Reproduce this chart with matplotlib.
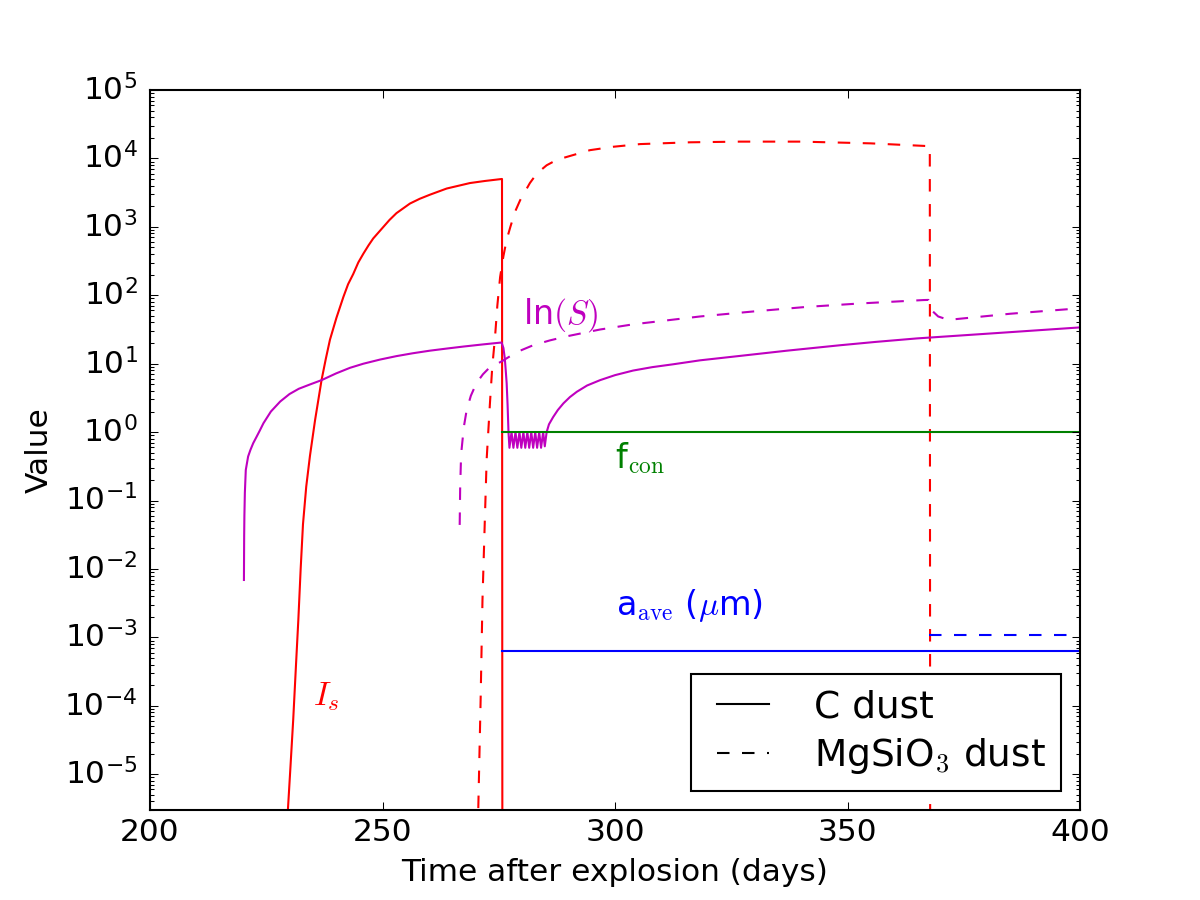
import matplotlib
matplotlib.use("Agg")
import matplotlib.pyplot as plt
from matplotlib.ticker import NullFormatter, LogLocator, FixedLocator

plt.style.use("classic")
plt.rcParams["mathtext.fontset"] = "cm"
plt.rcParams["font.family"] = ["DejaVu Sans"]

# ---- data ----
# Nucleation rate I_s, C dust
c_is_day = [229.5, 230.2, 230.8, 231.4, 231.9, 232.4, 232.9, 233.6, 234.4, 235.5,
            236.9, 237.8, 238.7, 240.1, 241.6, 242.6, 243.7, 244.8, 245.9, 247.0,
            248.0, 250.2, 251.5, 253.0, 255.9, 258.0, 260.2, 263.8, 268.8, 272.0,
            275.7, 275.8]
c_is_val = [2.0e-6, 1.26e-5, 6.3e-5, 4.0e-4, 1.8e-3, 1.0e-2, 4.5e-2, 0.16, 0.45, 1.5,
            5.8, 11.7, 22.4, 47, 95, 145, 204, 302, 407, 537,
            676, 1000, 1260, 1585, 2190, 2570, 2950, 3630, 4365, 4680,
            5010, 1e-9]

# Nucleation rate I_s, MgSiO3 dust
m_is_day = [270.6, 271.1, 271.5, 272.0, 272.4, 273.1, 273.6, 274.2, 274.7, 275.3,
            276.0, 276.7, 277.5, 278.5, 279.6, 281.7, 283.2, 285.3, 287.5, 291.0,
            294.6, 299.6, 305.4, 316.1, 326.9, 340.0, 355.0, 367.7, 367.8]
m_is_val = [3.2e-6, 1.2e-4, 3.5e-3, 0.05, 0.4, 2.6, 8.9, 24.5, 71, 186,
            372, 646, 1000, 1660, 2450, 4370, 6030, 7940, 9550, 11200,
            13200, 14800, 16200, 17200, 17600, 17600, 16600, 15100, 1e-9]

# ln(S), C dust
c_lns_day = [220.2, 220.25, 220.3, 220.4, 220.6, 221.1, 221.6, 222.2, 222.9, 223.6,
             224.4, 226.0, 228.0, 230.0, 232.0, 234.5, 236.9, 240.0, 243.0, 245.9,
             249.5, 253.0, 256.5, 260.2, 264.0, 267.4, 271.5, 275.6, 276.0, 276.3,
             276.5, 276.7, 276.9, 277.1,
             277.3, 277.75, 278.15, 278.6, 279.0, 279.45, 279.85, 280.3, 280.7,
             281.15, 281.55, 282.0, 282.4, 282.85, 283.25, 283.7, 284.1, 284.55, 284.9,
             285.3, 285.8, 286.7, 287.7, 288.9, 290.3, 291.8, 294.0, 296.8, 300.0,
             303.9, 308.0, 312.5, 318.3, 326.9, 337.0, 348.4, 356.0, 364.9, 382.0,
             400.0]
c_lns_val = [0.0069, 0.03, 0.06, 0.13, 0.28, 0.44, 0.55, 0.69, 0.85, 1.05,
             1.35, 2.0, 2.8, 3.6, 4.3, 5.0, 5.75, 7.2, 8.7, 10.0,
             11.5, 12.9, 14.2, 15.5, 16.7, 17.8, 19.1, 20.4, 17.0, 12.0,
             8.0, 5.2, 2.5, 0.98,
             0.59, 1.0, 0.59, 1.0, 0.59, 1.0, 0.59, 1.0, 0.59,
             1.0, 0.59, 1.0, 0.59, 1.0, 0.59, 1.0, 0.59, 1.0, 0.62,
             1.0, 1.3, 1.66, 2.1, 2.63, 3.25, 3.89, 4.8, 5.75, 6.8,
             7.94, 8.9, 9.8, 11.2, 13.0, 15.5, 18.6, 20.8, 23.4, 28.0,
             33.9]

# ln(S), MgSiO3 dust
m_lns_day = [266.6, 266.7, 266.85, 267.0, 267.5, 268.1, 269.0, 270.2, 271.6, 273.1,
             274.5, 276.0, 278.9, 282.4, 286.0, 289.6, 296.8, 303.9, 318.3, 330.0,
             341.2, 352.7, 366.3, 367.4, 368.1, 369.5, 371.7, 385.0, 400.0]
m_lns_val = [0.044, 0.15, 0.35, 0.55, 1.2, 2.1, 3.4, 5.2, 7.0, 8.9,
             9.8, 11.2, 14.8, 18.6, 21.9, 25.1, 31.6, 37.6, 49.0, 58.2,
             67.6, 75.9, 85.1, 85.5, 60.3, 49.0, 43.7, 53.7, 64.6]

# condensation efficiency f_con (C dust)
c_fcon_day = [275.8, 400.0]
c_fcon_val = [1.0, 1.0]

# average grain radius a_ave (micron)
c_aave_day = [275.8, 400.0]
c_aave_val = [6.3e-4, 6.3e-4]
m_aave_day = [367.6, 400.0]
m_aave_val = [1.08e-3, 1.08e-3]

x_ticks = [200, 250, 300, 350, 400]
y_ticks = [1e-5, 1e-4, 1e-3, 1e-2, 1e-1, 1e0, 1e1, 1e2, 1e3, 1e4, 1e5]

# ---- figure ----
fig = plt.figure(figsize=(8, 6), dpi=150, facecolor="white")
ax = fig.add_subplot(111)
ax.set_position([0.125, 0.1, 0.775, 0.8])

ax.plot(c_is_day, c_is_val, color="r", ls="-", lw=1.0)
ax.plot(m_is_day, m_is_val, color="r", ls="--", lw=1.0)
ax.plot(c_lns_day, c_lns_val, color="m", ls="-", lw=1.0)
ax.plot(m_lns_day, m_lns_val, color="m", ls="--", lw=1.0)
ax.plot(c_fcon_day, c_fcon_val, color="g", ls="-", lw=1.0)
ax.plot(c_aave_day, c_aave_val, color="b", ls="-", lw=1.0)
ax.plot(m_aave_day, m_aave_val, color="b", ls="--", lw=1.0)

ax.set_yscale("log")
ax.set_xlim(200, 400)
ax.set_ylim(3e-6, 1e5)
ax.set_xticks(x_ticks)
ax.yaxis.set_major_locator(FixedLocator(y_ticks))
ax.yaxis.set_minor_locator(LogLocator(base=10, subs=range(2, 10)))
ax.yaxis.set_minor_formatter(NullFormatter())
ax.xaxis.set_minor_formatter(NullFormatter())
ax.set_ylim(3e-6, 1e5)
ax.tick_params(labelsize=15)
ax.tick_params(axis="y", which="major", pad=6)
ax.set_xlabel("Time after explosion (days)", fontsize=15)
ax.set_ylabel("Value", fontsize=15)

ax.text(280.2, 39, r"ln$(S)$", color="m", fontsize=16, va="baseline", ha="left")
ax.text(300.0, 0.30, r"f$_{\rm con}$", color="g", fontsize=16, va="baseline", ha="left")
ax.text(300.2, 2.1e-3, r"a$_{\rm ave}$ ($\mu$m)", color="b", fontsize=16, va="baseline", ha="left")
ax.text(235.0, 1.0e-4, r"$I_s$", color="r", fontsize=16, va="baseline", ha="left")

h1, = ax.plot([], [], color="k", ls="-", lw=1.0, label="C dust")
h2, = ax.plot([], [], color="k", ls="--", lw=1.0, label=r"MgSiO$_3$ dust")
ax.legend(handles=[h1, h2], loc="lower right", fontsize=18, handlelength=2.0,
          handletextpad=0.9, borderpad=0.4, labelspacing=0.3)

fig.savefig("out.png", dpi=150, facecolor="white")
